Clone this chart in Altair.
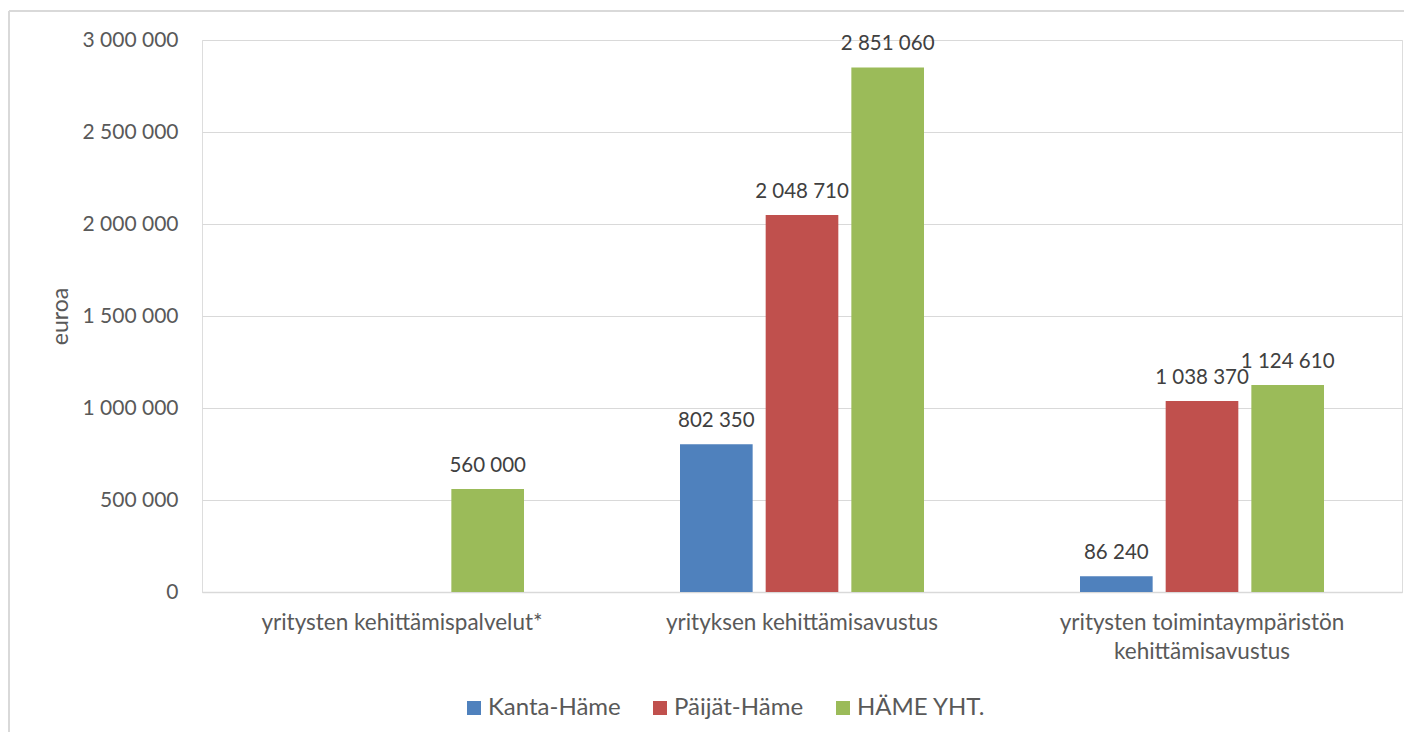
import altair as alt
import pandas as pd

categories = [
    "yritysten kehittämispalvelut*",
    "yrityksen kehittämisavustus",
    "yritysten toimintaympäristön kehittämisavustus",
]
series = ["Kanta-Häme", "Päijät-Häme", "HÄME YHT."]
kanta_hame = [None, 802350, 86240]
paijat_hame = [None, 2048710, 1038370]
hame_yht = [560000, 2851060, 1124610]
colors = ["#4F81BD", "#C0504D", "#9BBB59"]
y_ticks = [0, 500000, 1000000, 1500000, 2000000, 2500000, 3000000]

rows = []
for name, vals in zip(series, [kanta_hame, paijat_hame, hame_yht]):
    for cat, v in zip(categories, vals):
        if v is not None:
            rows.append({"kategoria": cat, "sarja": name, "arvo": v})
df = pd.DataFrame(rows)

FONT = "Lato"
GRAY = "#595959"
GRID = "#D9D9D9"

label_expr = (
    "datum.label == 'yritysten toimintaympäristön kehittämisavustus' ? "
    "['yritysten toimintaympäristön', 'kehittämisavustus'] : datum.label"
)

x_enc = alt.X(
    "kategoria:N",
    sort=categories,
    scale=alt.Scale(paddingInner=0.39, paddingOuter=0.195),
    axis=alt.Axis(
        title=None,
        labelAngle=0,
        labelExpr=label_expr,
        domainColor=GRID,
        domainWidth=1.5,
        ticks=False,
        grid=False,
        labelPadding=19,
        labelFont=FONT,
        labelFontSize=22.5,
        labelColor=GRAY,
        labelLimit=500,
        labelLineHeight=29,
    ),
)
xo_enc = alt.XOffset(
    "sarja:N", sort=series, scale=alt.Scale(paddingInner=0.152, paddingOuter=0)
)
y_enc = alt.Y(
    "arvo:Q",
    scale=alt.Scale(domain=[0, 3000000]),
    axis=alt.Axis(
        values=y_ticks,
        format=",d",
        title="euroa",
        titleX=-142,
        titleY=276,
        titleAngle=-90,
        titleAlign="center",
        titleBaseline="middle",
        titleFont=FONT,
        titleFontSize=23,
        titleFontWeight="normal",
        titleColor=GRAY,
        domain=False,
        ticks=False,
        gridColor=GRID,
        gridWidth=1,
        labelPadding=24,
        labelFont=FONT,
        labelFontSize=21,
        labelColor=GRAY,
    ),
)

bars = alt.Chart(df).mark_bar().encode(
    x=x_enc,
    xOffset=xo_enc,
    y=y_enc,
    color=alt.Color(
        "sarja:N",
        sort=series,
        scale=alt.Scale(domain=series, range=colors),
        legend=alt.Legend(
            title=None,
            orient="none",
            legendX=260,
            legendY=656,
            direction="horizontal",
            symbolType="square",
            symbolSize=196,
            symbolStrokeWidth=0,
            labelFont=FONT,
            labelFontSize=24,
            labelColor=GRAY,
            labelOffset=2,
            columnPadding=27,
            padding=0,
        ),
    ),
)

texts = alt.Chart(df).mark_text(
    baseline="alphabetic", dy=-17, font=FONT, fontSize=20.5, color="#404040"
).encode(
    x=alt.X("kategoria:N", sort=categories),
    xOffset=alt.XOffset("sarja:N", sort=series),
    y=alt.Y("arvo:Q"),
    text=alt.Text("arvo:Q", format=",d"),
)

frame_df = pd.DataFrame({"k": [0]})
top_border = alt.Chart(frame_df).mark_rule(color=GRID, strokeWidth=2).encode(
    x=alt.value(-193), x2=alt.value(1212), y=alt.value(-29)
)
left_border = alt.Chart(frame_df).mark_rule(color=GRID, strokeWidth=2).encode(
    x=alt.value(-193), y=alt.value(-29), y2=alt.value(705)
)

chart = (
    alt.layer(bars, texts, top_border, left_border)
    .properties(
        width=1200,
        height=552,
        autosize=alt.AutoSizeParams(type="none"),
        padding={"left": 194, "top": 32, "right": 2, "bottom": 140},
    )
    .configure_view(strokeWidth=0)
    .configure(
        locale={
            "number": {
                "decimal": ",",
                "thousands": "\u00a0",
                "grouping": [3],
                "currency": ["", "\u00a0€"],
            }
        }
    )
)

chart.save("out.html", embed_options={"renderer": "svg", "actions": False})
